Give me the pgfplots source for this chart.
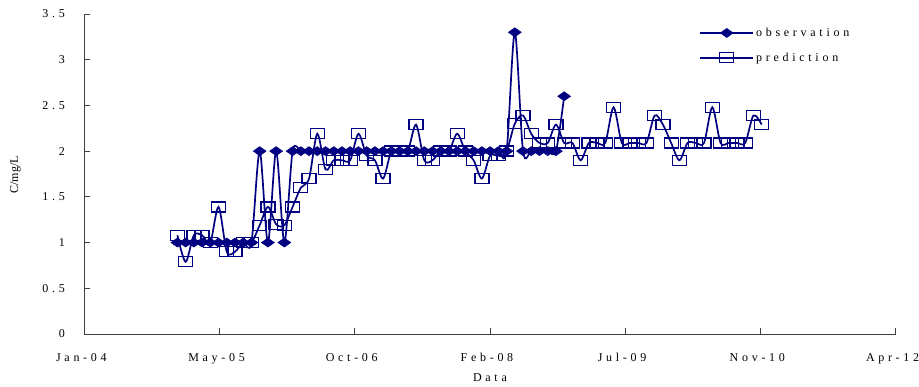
\documentclass[border=0pt]{standalone}
\usepackage{fontspec}
\setmainfont{Liberation Serif}
\newfontfamily\spaced{Liberation Serif}[LetterSpace=31]
\usepackage{pgfplots}
\usepackage{pgfplotstable}
\pgfplotsset{compat=1.18}
\definecolor{navyblue}{RGB}{0,0,128}

\pgfplotstableread{
m val
11.3 1.0
12.3 1.0
13.3 1.0
14.3 1.0
15.3 1.0
16.3 1.0
17.3 1.0
18.3 1.0
19.3 1.0
20.3 1.0
21.3 2.0
22.3 1.0
23.3 2.0
24.3 1.0
25.3 2.0
26.3 2.0
27.3 2.0
28.3 2.0
29.3 2.0
30.3 2.0
31.3 2.0
32.3 2.0
33.3 2.0
34.3 2.0
35.3 2.0
36.3 2.0
37.3 2.0
38.3 2.0
39.3 2.0
40.3 2.0
41.3 2.0
42.3 2.0
43.3 2.0
44.3 2.0
45.3 2.0
46.3 2.0
47.3 2.0
48.3 2.0
49.3 2.0
50.3 2.0
51.3 2.0
52.3 3.3
53.3 2.0
54.3 2.0
55.3 2.0
56.3 2.0
57.3 2.0
58.3 2.6
}\obs

\pgfplotstableread{
m val
11.3 1.08
12.3 0.79
13.3 1.08
14.3 1.08
15.3 1.0
16.3 1.39
17.3 0.9
18.3 0.9
19.3 1.0
20.3 1.0
21.3 1.19
22.3 1.39
23.3 1.2
24.3 1.19
25.3 1.39
26.3 1.6
27.3 1.7
28.3 2.19
29.3 1.8
30.3 1.9
31.3 1.9
32.3 1.9
33.3 2.19
34.3 1.95
35.3 1.9
36.3 1.7
37.3 2.0
38.3 2.0
39.3 2.0
40.3 2.29
41.3 1.9
42.3 1.9
43.3 2.0
44.3 2.0
45.3 2.19
46.3 2.0
47.3 1.9
48.3 1.7
49.3 1.95
50.3 1.95
51.3 2.0
52.3 2.3
53.3 2.39
54.3 2.19
55.3 2.09
56.3 2.09
57.3 2.29
58.3 2.09
59.3 2.09
60.3 1.9
61.3 2.09
62.3 2.09
63.3 2.09
64.3 2.48
65.3 2.09
66.3 2.09
67.3 2.09
68.3 2.09
69.3 2.39
70.3 2.29
71.3 2.09
72.3 1.9
73.3 2.09
74.3 2.09
75.3 2.09
76.3 2.48
77.3 2.09
78.3 2.09
79.3 2.09
80.3 2.09
81.3 2.39
82.3 2.29
}\pred

\begin{document}
\begin{tikzpicture}
\path[use as bounding box] (-84.4pt,-53pt) rectangle (834.6pt,334pt);
\begin{axis}[
  at={(0,0)}, anchor=south west,
  scale only axis, width=811.1pt, height=320pt,
  xmin=0, xmax=98.562, ymin=0, ymax=3.5,
  axis x line=bottom, axis y line=left,
  axis line style={-, line width=0.9pt, black!75},
  tick align=inside, major tick length=6pt,
  tick style={black!75, line width=0.8pt},
  xtick={0,16.427,32.854,49.281,65.708,82.135,98.562},
  xticklabels={Jan-04,May-05,Oct-06,Feb-08,Jul-09,Nov-10,Apr-12},
  ytick={0,0.5,1,1.5,2,2.5,3,3.5},
  yticklabels={0,0.5,1,1.5,2,2.5,3,3.5},
  ticklabel style={font=\spaced\fontsize{12pt}{14pt}\selectfont},
  xticklabel style={anchor=base, yshift=-28pt, xshift=-3pt},
  yticklabel style={anchor=east, xshift=-16pt},
  xlabel={Data},
  xlabel style={font=\spaced\fontsize{12pt}{14pt}\selectfont, at={(rel axis cs:0.5,0)}, anchor=base, yshift=-48pt},
  ylabel={C/mg/L},
  ylabel style={font=\fontsize{12pt}{14pt}\selectfont, at={(rel axis cs:-0.0851,0.497)}, anchor=center},
  legend style={at={(rel axis cs:0.758,0.963)}, anchor=north west, draw=none, fill=none,
    font=\spaced\fontsize{12pt}{14pt}\selectfont, row sep=11pt, inner sep=0pt,
    nodes={inner sep=2pt}},
  legend cell align=left,
  legend image code/.code={
    \draw[mark repeat=2,mark phase=2,#1] plot coordinates {(0pt,0pt) (26.5pt,0pt) (53pt,0pt)};
  },
  clip=false,
]
\addplot[navyblue, line width=1.7pt, smooth, tension=0.5, mark=diamond*, mark size=4.5pt,
  mark options={solid, xscale=1.9, line width=0.6pt, fill=navyblue}] table[x=m,y=val] {\obs};
\addlegendentry{observation}
\addplot[navyblue, line width=1.7pt, smooth, tension=0.5, mark=square, mark size=5pt,
  mark options={solid, xscale=1.4, line width=1.3pt, fill=none}] table[x=m,y=val] {\pred};
\addlegendentry{prediction}
\end{axis}
\end{tikzpicture}
\end{document}
